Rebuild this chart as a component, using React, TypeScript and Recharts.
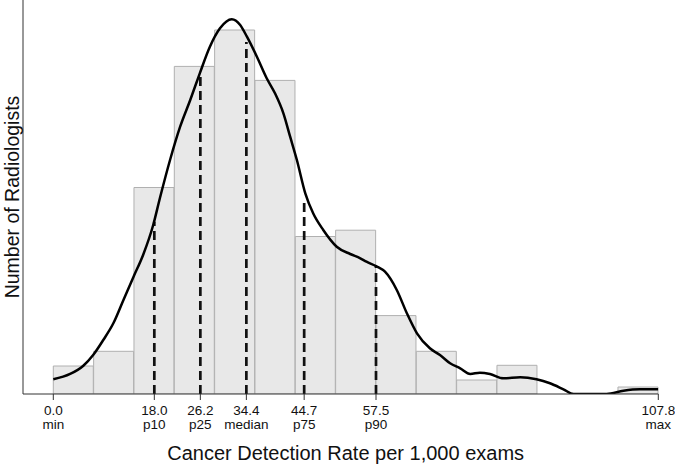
import React from "react";
import { ComposedChart, XAxis, YAxis, Bar, Line, ReferenceLine } from "recharts";

// histogram: 15 equal bins from min (0.0) to max (107.8)
const binWidth = 107.8 / 15;
const binCounts = [4.0, 6.1, 29.5, 46.8, 52.0, 44.8, 22.5, 23.4, 11.2, 6.1, 2.0, 4.1, 0, 0, 1.0];

// smoothed density, scaled to the count axis
const densityX = [
  0.0, 3.0, 5.35, 7.1, 8.9, 10.7, 12.5, 14.3, 16.0, 17.8, 19.0, 20.8, 22.6, 24.4,
  26.1, 27.9, 29.7, 31.8, 33.3, 34.5, 36.3, 38.0, 39.5, 41.0, 42.2, 43.4, 44.9,
  46.3, 48.1, 50.5, 52.9, 54.7, 55.8, 57.6, 59.1, 61.2, 63.0, 64.8, 67.1, 68.9,
  70.7, 72.5, 74.3, 76.0, 77.8, 80.2, 83.2, 86.1, 88.5, 90.9, 92.7, 95.6, 98.6,
  101.6, 104.5, 107.8,
];
const densityY = [
  2.1, 2.86, 4.04, 5.57, 7.71, 10.1, 13.43, 16.76, 19.86, 24.14, 28.0, 33.43,
  38.19, 42.0, 45.81, 49.61, 52.24, 53.53, 52.71, 51.04, 48.14, 45.14, 42.96,
  40.1, 36.76, 33.43, 28.67, 25.81, 23.43, 21.04, 20.0, 19.39, 18.9, 18.24,
  17.47, 14.86, 11.53, 8.67, 6.53, 5.57, 4.39, 3.67, 2.86, 3.04, 2.86, 2.24,
  2.39, 2.1, 1.53, 0.67, 0, 0, 0, 0.47, 0.67, 0.67,
];

const tickValues = [0.0, 18.0, 26.2, 34.4, 44.7, 57.5, 107.8];
const tickNames = ["min", "p10", "p25", "median", "p75", "p90", "max"];

const percentileValues = [18.0, 26.2, 34.4, 44.7, 57.5];
const percentileHeights = [24.6, 45.8, 50.3, 28.0, 18.3];

const binData = binCounts.map((count, i) => ({
  bin: i,
  count,
}));
const densityData = densityX.map((x, i) => ({ x, y: densityY[i] }));

const FONT = "'Liberation Sans', Arial, Helvetica, sans-serif";

const PLOT_LEFT = 23;
const PLOT_RIGHT = 658.3;
const X_MIN = -5.4;
const X_MAX = 107.8;

const TwoLineTick = ({ x, y, payload }: { x: number; y: number; payload: { value: number } }) => {
  const i = tickValues.indexOf(payload.value);
  return (
    <g>
      <text x={x} y={y + 14.5} textAnchor="middle" fontSize={13.5} fill="#111" fontFamily={FONT}>
        {payload.value.toFixed(1)}
      </text>
      <text x={x} y={y + 28.5} textAnchor="middle" fontSize={13.5} fill="#111" fontFamily={FONT}>
        {tickNames[i]}
      </text>
    </g>
  );
};

export default function App() {
  // px offset of the x = 0 edge from the plot's left side
  const padLeft = ((0 - X_MIN) * (PLOT_RIGHT - PLOT_LEFT)) / (X_MAX - X_MIN);
  return (
    <div style={{ position: "absolute", left: 0, top: 0, background: "#fff" }}>
      <ComposedChart
        width={675}
        height={465}
        data={binData}
        barCategoryGap={0}
        margin={{ top: 0, right: 675 - PLOT_RIGHT, bottom: 0, left: 0 }}
        style={{ fontFamily: FONT }}
      >
        <XAxis
          xAxisId="bins"
          dataKey="bin"
          type="category"
          orientation="top"
          height={0}
          hide
          padding={{ left: padLeft, right: 0 }}
        />
        <XAxis
          xAxisId="value"
          dataKey="x"
          type="number"
          domain={[X_MIN, X_MAX]}
          allowDataOverflow
          ticks={tickValues}
          interval={0}
          tick={TwoLineTick as any}
          tickSize={6}
          tickMargin={0}
          height={71}
          stroke="#333"
          label={{
            value: "Cancer Detection Rate per 1,000 exams",
            position: "insideBottom",
            offset: 5.5,
            dx: 5,
            fontSize: 20,
            fill: "#111",
            fontFamily: FONT,
          }}
        />
        <YAxis
          type="number"
          domain={[0, 394 / 7]}
          allowDataOverflow
          tick={false}
          tickLine={false}
          width={PLOT_LEFT}
          stroke="#333"
          label={{
            value: "Number of Radiologists",
            angle: -90,
            position: "center",
            dx: 1,
            fontSize: 19.5,
            fill: "#111",
            fontFamily: FONT,
          }}
        />
        <Bar
          xAxisId="bins"
          dataKey="count"
          fill="#e8e8e8"
          stroke="#b0b0b0"
          strokeWidth={1}
          isAnimationActive={false}
        />
        {percentileValues.map((p, i) => (
          <ReferenceLine
            key={p}
            xAxisId="value"
            segment={[
              { x: p, y: 0 },
              { x: p, y: percentileHeights[i] },
            ]}
            stroke="#111"
            strokeWidth={2.7}
            strokeDasharray="9 5"
          />
        ))}
        <Line
          xAxisId="value"
          data={densityData}
          dataKey="y"
          type="monotone"
          stroke="#000"
          strokeWidth={2.5}
          dot={false}
          activeDot={false}
          isAnimationActive={false}
        />
      </ComposedChart>
    </div>
  );
}
